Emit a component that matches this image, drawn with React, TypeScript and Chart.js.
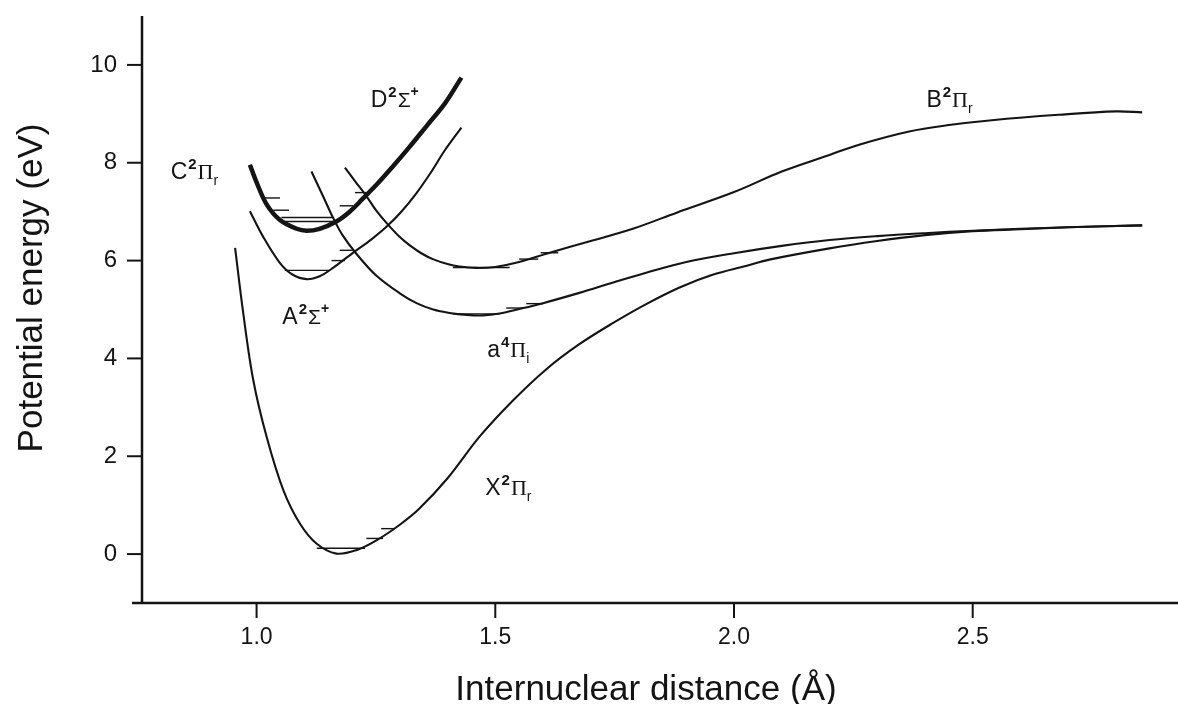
import React, { useEffect, useRef } from "react";
import { Chart, registerables } from "chart.js";

Chart.register(...registerables);

// ---------- data (Å, eV) ----------
const xStateR = [0.955, 0.972, 0.993, 1.021, 1.056, 1.091, 1.126, 1.167, 1.209, 1.251, 1.30, 1.34, 1.40, 1.467, 1.537, 1.607, 1.676, 1.746, 1.816, 1.886, 1.955, 2.025, 2.074, 2.2, 2.3, 2.4, 2.5, 2.6, 2.7, 2.855];
const xStateE = [6.26, 4.93, 3.56, 2.40, 1.31, 0.62, 0.21, 0.01, 0.08, 0.28, 0.60, 0.92, 1.55, 2.40, 3.14, 3.78, 4.29, 4.72, 5.11, 5.45, 5.71, 5.89, 6.02, 6.25, 6.40, 6.52, 6.60, 6.64, 6.68, 6.72];

const aSigmaR = [0.986, 1.013, 1.049, 1.076, 1.105, 1.132, 1.160, 1.206, 1.240, 1.272, 1.305, 1.335, 1.365, 1.394, 1.429];
const aSigmaE = [7.01, 6.50, 5.95, 5.71, 5.62, 5.68, 5.85, 6.19, 6.43, 6.69, 7.02, 7.38, 7.80, 8.25, 8.72];

const cdStateR = [0.986, 1.0, 1.021, 1.049, 1.084, 1.105, 1.132, 1.167, 1.195, 1.222, 1.254, 1.285, 1.32, 1.356, 1.395, 1.429];
const cdStateE = [7.96, 7.60, 7.15, 6.83, 6.65, 6.61, 6.65, 6.80, 7.00, 7.26, 7.58, 7.92, 8.32, 8.75, 9.22, 9.74];

const a4PiR = [1.115, 1.14, 1.16, 1.18, 1.209, 1.25, 1.30, 1.335, 1.37, 1.404, 1.44, 1.474, 1.509, 1.55, 1.60, 1.676, 1.75, 1.816, 1.90, 2.0, 2.1, 2.2, 2.3, 2.4, 2.5, 2.6, 2.7, 2.855];
const a4PiE = [7.82, 7.30, 6.88, 6.52, 6.14, 5.70, 5.33, 5.13, 5.00, 4.93, 4.89, 4.88, 4.92, 5.01, 5.13, 5.34, 5.56, 5.75, 5.97, 6.15, 6.30, 6.42, 6.50, 6.56, 6.61, 6.65, 6.68, 6.72];

const bPiR = [1.185, 1.208, 1.230, 1.250, 1.272, 1.30, 1.321, 1.345, 1.369, 1.40, 1.425, 1.46, 1.50, 1.55, 1.614, 1.70, 1.788, 1.88, 2.0, 2.1, 2.2, 2.262, 2.367, 2.45, 2.54, 2.68, 2.80, 2.855];
const bPiE = [7.90, 7.60, 7.32, 7.03, 6.77, 6.48, 6.31, 6.15, 6.03, 5.93, 5.88, 5.85, 5.87, 5.97, 6.16, 6.40, 6.65, 6.98, 7.40, 7.82, 8.16, 8.37, 8.64, 8.77, 8.87, 8.98, 9.05, 9.03];

// vibrational levels: [r start, r end, energy]
const xLevels = [[1.126, 1.227, 0.12], [1.230, 1.265, 0.32], [1.261, 1.289, 0.52]];
const aSigmaLevels = [[1.059, 1.153, 5.80], [1.157, 1.185, 6.00], [1.174, 1.202, 6.21]];
const cdLevels = [[1.052, 1.160, 6.88], [1.052, 1.160, 6.80], [1.017, 1.049, 7.28], [1.035, 1.068, 7.03], [1.174, 1.202, 7.12], [1.206, 1.230, 7.39]];
const a4PiLevels = [[1.411, 1.509, 4.91], [1.523, 1.558, 5.03], [1.565, 1.600, 5.12]];
const bPiLevels = [[1.411, 1.530, 5.86], [1.55, 1.59, 6.03], [1.595, 1.632, 6.16]];

// state labels: letter, multiplicity, symbol, subscript, superscript, r, E (anchor: left / baseline)
const labelLetters = ["C", "D", "B", "A", "a", "X"];
const labelMult = ["2", "2", "2", "2", "4", "2"];
const labelSymbols = ["Π", "Σ", "Π", "Σ", "Π", "Π"];
const labelSubs = ["r", "", "r", "", "i", "r"];
const labelSups = ["", "+", "", "+", "", ""];
const labelR = [0.820, 1.239, 2.403, 1.054, 1.483, 1.479];
const labelE = [7.66, 9.13, 9.13, 4.71, 4.02, 1.20];

const xTitle = "Internuclear distance (Å)";
const yTitle = "Potential energy (eV)";
const xLabelled = [1.0, 1.5, 2.0, 2.5];
const yLabelled = [0, 2, 4, 6, 8, 10];

const INK = "#141414";
const SANS = "'Liberation Sans', Arial, Helvetica, sans-serif";
const SERIF = "'Liberation Serif', 'Times New Roman', serif";

function toPts(r: number[], e: number[]) {
  return r.map((v, i) => ({ x: v, y: e[i] }));
}

function curve(r: number[], e: number[], width: number) {
  return {
    data: toPts(r, e),
    showLine: true,
    borderColor: INK,
    borderWidth: width,
    pointRadius: 0,
    tension: 0.35,
    fill: false,
  };
}

function levelSets(levels: number[][]) {
  return levels.map((l) => ({
    data: [{ x: l[0], y: l[2] }, { x: l[1], y: l[2] }],
    showLine: true,
    borderColor: INK,
    borderWidth: 1.4,
    pointRadius: 0,
    tension: 0,
    fill: false,
  }));
}

const near = (v: number, list: number[]) => list.some((t) => Math.abs(t - v) < 1e-6);

const decor = {
  id: "decor",
  afterDraw(chart: any) {
    const { ctx, chartArea } = chart;
    const xs = chart.scales.x;
    const ys = chart.scales.y;
    ctx.save();
    ctx.strokeStyle = INK;
    ctx.fillStyle = INK;
    ctx.lineCap = "butt";

    // axis lines
    ctx.lineWidth = 2.5;
    ctx.beginPath();
    ctx.moveTo(chartArea.left, chartArea.top);
    ctx.lineTo(chartArea.left, chartArea.bottom);
    ctx.stroke();
    ctx.beginPath();
    ctx.moveTo(chartArea.left - 10, chartArea.bottom);
    ctx.lineTo(chartArea.right, chartArea.bottom);
    ctx.stroke();

    // x tick marks
    ctx.lineWidth = 2;
    for (const t of xs.ticks) {
      const px = xs.getPixelForValue(t.value);
      const major = near(Math.round(t.value * 10) / 10, xLabelled);
      ctx.beginPath();
      ctx.moveTo(px, chartArea.bottom);
      ctx.lineTo(px, chartArea.bottom + (major ? 15 : 8));
      ctx.stroke();
    }
    // y tick marks
    for (const t of ys.ticks) {
      if (t.value < 0 || t.value > 10) continue;
      const py = ys.getPixelForValue(t.value);
      const major = near(t.value, yLabelled);
      ctx.beginPath();
      ctx.moveTo(chartArea.left, py);
      ctx.lineTo(chartArea.left - (major ? 15 : 9), py);
      ctx.stroke();
    }

    // axis titles
    ctx.font = `35px ${SANS}`;
    ctx.textAlign = "center";
    ctx.textBaseline = "alphabetic";
    ctx.fillText(xTitle, 646, 700);
    ctx.save();
    ctx.translate(42, 288);
    ctx.rotate(-Math.PI / 2);
    ctx.fillText(yTitle, 0, 0);
    ctx.restore();

    // state labels
    ctx.textAlign = "left";
    for (let i = 0; i < labelLetters.length; i++) {
      let cx = xs.getPixelForValue(labelR[i]);
      const by = ys.getPixelForValue(labelE[i]);
      const parts = [
        { t: labelLetters[i], f: `23px ${SANS}`, dy: 0, g: 1 },
        { t: labelMult[i], f: `bold 15px ${SANS}`, dy: -10, g: 1 },
        { t: labelSymbols[i], f: labelSymbols[i] === "Π" ? `22px ${SERIF}` : `21px ${SANS}`, dy: 0, g: 0 },
        { t: labelSubs[i], f: `14px ${SANS}`, dy: 6, g: 0 },
        { t: labelSups[i], f: `bold 14px ${SANS}`, dy: -11, g: 0 },
      ];
      for (const p of parts) {
        if (!p.t) continue;
        ctx.font = p.f;
        ctx.fillText(p.t, cx, by + p.dy);
        cx += ctx.measureText(p.t).width + p.g;
      }
    }
    ctx.restore();
  },
};

export default function App() {
  const ref = useRef<HTMLCanvasElement | null>(null);
  useEffect(() => {
    if (!ref.current) return;
    const datasets: any[] = [
      curve(xStateR, xStateE, 2.1),
      curve(aSigmaR, aSigmaE, 2.1),
      curve(a4PiR, a4PiE, 2.1),
      curve(bPiR, bPiE, 2.1),
      curve(cdStateR, cdStateE, 4.5),
      ...levelSets(xLevels),
      ...levelSets(aSigmaLevels),
      ...levelSets(cdLevels),
      ...levelSets(a4PiLevels),
      ...levelSets(bPiLevels),
    ];
    const chart = new Chart(ref.current, {
      type: "scatter",
      data: { datasets },
      plugins: [decor],
      options: {
        animation: false,
        responsive: false,
        layout: { padding: { top: 16, right: 0, left: 0, bottom: 0 } },
        plugins: { legend: { display: false }, tooltip: { enabled: false } },
        scales: {
          x: {
            type: "linear",
            min: 0.76,
            max: 2.93,
            afterFit: (s: any) => {
              s.height = 101;
              s.paddingLeft = 0;
              s.paddingRight = 0;
            },
            grid: { display: false, drawTicks: false },
            border: { display: false },
            ticks: {
              stepSize: 0.1,
              includeBounds: false,
              autoSkip: false,
              maxRotation: 0,
              padding: 21,
              color: INK,
              font: { size: 23, family: SANS },
              callback: (v: any) => {
                const n = Math.round(Number(v) * 10) / 10;
                return near(n, xLabelled) ? n.toFixed(1) : null;
              },
            },
          },
          y: {
            type: "linear",
            min: -1,
            max: 11,
            afterFit: (s: any) => {
              s.width = 142;
              s.paddingTop = 0;
              s.paddingBottom = 0;
            },
            grid: { display: false, drawTicks: false },
            border: { display: false },
            ticks: {
              stepSize: 1,
              includeBounds: false,
              autoSkip: false,
              padding: 25,
              color: INK,
              font: { size: 24, family: SANS },
              callback: (v: any) => {
                const n = Math.round(Number(v));
                return near(n, yLabelled) ? String(n) : null;
              },
            },
          },
        },
      },
    });
    return () => chart.destroy();
  }, []);
  return (
    <div style={{ position: "fixed", left: 0, top: 0, width: 1178, height: 704, background: "#fff" }}>
      <canvas ref={ref} width={1178} height={704} style={{ display: "block" }} />
    </div>
  );
}
